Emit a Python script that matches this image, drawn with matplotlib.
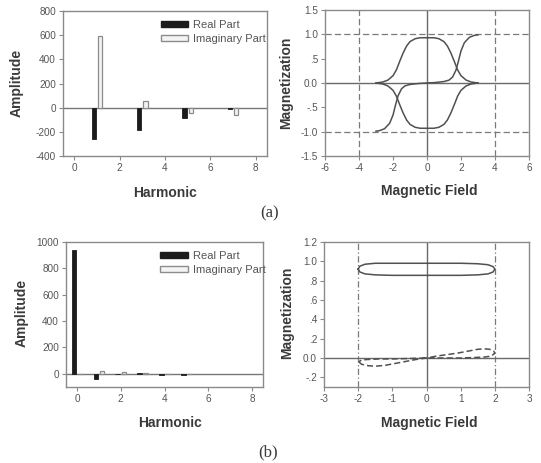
import numpy as np
import matplotlib
matplotlib.use('Agg')
import matplotlib.pyplot as plt
from matplotlib.patches import Patch

plt.rcParams['font.family'] = ['Liberation Sans', 'DejaVu Sans']
plt.rcParams['axes.unicode_minus'] = False

W, H = 541, 463

# --- DATA ---
harmonics_a = [1, 3, 5, 7]
real_a = [-258, -185, -85, -14]
imag_a = [590, 58, -48, -58]

harmonics_b = [0, 1, 2, 3, 4, 5]
real_b = [940, -40, 0, 5, -6, -6]
imag_b = [0, 25, 15, 4, 0, 0]

# (a) hysteresis branches
dome_x = [-3.0, -2.6, -2.3, -2.0, -1.8, -1.6, -1.4, -1.2, -1.0, -0.7, -0.4, 0.0,
          0.4, 0.7, 1.0, 1.2, 1.4, 1.6, 1.8, 2.0, 2.3, 2.6, 3.0]
dome_up_y = [0.0, 0.02, 0.06, 0.15, 0.27, 0.45, 0.62, 0.76, 0.85, 0.91, 0.93, 0.93,
             0.93, 0.91, 0.85, 0.76, 0.62, 0.45, 0.27, 0.15, 0.06, 0.02, 0.0]
dome_dn_y = [0.0, -0.02, -0.06, -0.15, -0.27, -0.45, -0.62, -0.76, -0.85, -0.91, -0.93, -0.93,
             -0.93, -0.91, -0.85, -0.76, -0.62, -0.45, -0.27, -0.15, -0.06, -0.02, 0.0]
s_right_x = [0.0, 0.5, 1.0, 1.3, 1.5, 1.7, 1.85, 2.0, 2.2, 2.5, 2.8, 3.0]
s_right_y = [0.0, 0.01, 0.03, 0.06, 0.12, 0.26, 0.45, 0.66, 0.83, 0.94, 0.98, 0.99]
s_left_x = [-3.0, -2.8, -2.5, -2.2, -2.0, -1.85, -1.7, -1.5, -1.3, -1.0, -0.5, 0.0]
s_left_y = [-0.99, -0.98, -0.94, -0.83, -0.66, -0.45, -0.26, -0.12, -0.06, -0.03, -0.01, 0.0]

# (b) loops
top_loop_x = [-2.0, -1.95, -1.8, -1.5, -1.0, 0.0, 1.0, 1.5, 1.8, 1.95, 2.0,
              1.95, 1.8, 1.5, 1.0, 0.0, -1.0, -1.5, -1.8, -1.95, -2.0]
top_loop_y = [0.92, 0.95, 0.97, 0.98, 0.98, 0.98, 0.98, 0.975, 0.965, 0.945, 0.92,
              0.89, 0.87, 0.86, 0.855, 0.855, 0.855, 0.86, 0.87, 0.89, 0.92]
low_loop_x = [-1.98, -1.9, -1.7, -1.5, -1.2, -0.9, -0.6, -0.3, 0.0, 0.3, 0.6, 0.9, 1.2,
              1.5, 1.7, 1.85, 1.97, 2.0, 1.9, 1.7, 1.4, 1.0, 0.5, 0.0, -0.5, -1.0,
              -1.4, -1.7, -1.9, -1.98]
low_loop_y = [-0.04, -0.065, -0.08, -0.085, -0.075, -0.055, -0.035, -0.015, 0.0, 0.02,
              0.035, 0.05, 0.07, 0.09, 0.095, 0.09, 0.07, 0.05, 0.02, 0.01, 0.005, 0.0,
              0.0, 0.0, -0.005, -0.01, -0.01, -0.015, -0.02, -0.04]

TXT = '#555555'
SPINE = '#8a8a8a'
LINE = '#505050'


def make_axes(fig, x0, y0, x1, y1):
    ax = fig.add_axes([x0 / W, 1 - y1 / H, (x1 - x0) / W, (y1 - y0) / H])
    for s in ax.spines.values():
        s.set_color(SPINE)
        s.set_linewidth(1.0)
    ax.tick_params(direction='out', length=3, width=0.8, color=SPINE,
                   labelsize=7.2, labelcolor=TXT, pad=2)
    return ax


def label(fig, x, y, text, rot=0, size=10, weight='bold', family=None):
    kw = {}
    if family:
        kw['family'] = family
    fig.text(x / W, 1 - y / H, text, ha='center', va='center', rotation=rot,
             fontsize=size, fontweight=weight, color='#3a3a3a', **kw)


def bar_panel(ax, h, re, im, ylim, yticks):
    h = np.array(h)
    ax.axhline(0, color='#777777', lw=1.0, zorder=1)
    ax.bar(h - 0.14, re, width=0.2, color='#1c1c1c', edgecolor='#1c1c1c', lw=0.6, zorder=2)
    ax.bar(h + 0.14, im, width=0.2, color='#f4f4f4', edgecolor='#8c8c8c', lw=0.9, zorder=2)
    ax.set_xlim(-0.5, 8.5)
    ax.set_ylim(*ylim)
    ax.set_xticks([0, 2, 4, 6, 8])
    ax.set_yticks(yticks)
    handles = [Patch(facecolor='#1c1c1c', edgecolor='#1c1c1c', label='Real Part'),
               Patch(facecolor='#f4f4f4', edgecolor='#8c8c8c', label='Imaginary Part')]
    leg = ax.legend(handles=handles, loc='upper left', bbox_to_anchor=(0.44, 0.99),
                    frameon=False, fontsize=8, handlelength=2.5, handleheight=0.4,
                    handletextpad=0.45, labelspacing=0.35, borderpad=0.2)
    for t in leg.get_texts():
        t.set_color(TXT)


fig = plt.figure(figsize=(W / 100, H / 100), dpi=100)
fig.patch.set_facecolor('white')

# (a) spectrum
ax1 = make_axes(fig, 63, 11, 267, 156)
bar_panel(ax1, harmonics_a, real_a, imag_a, (-400, 800), np.arange(-400, 801, 200))

# (a) hysteresis
ax2 = make_axes(fig, 325, 10, 529, 156)
for v in (-4, 4):
    ax2.axvline(v, color='#7a7a7a', lw=0.9, ls=(0, (5, 2.5)), zorder=1)
for v in (-1, 1):
    ax2.axhline(v, color='#7a7a7a', lw=0.9, ls=(0, (5, 2.5)), zorder=1)
ax2.axhline(0, color='#6a6a6a', lw=1.0, zorder=1)
ax2.axvline(0, color='#6a6a6a', lw=1.0, zorder=1)
ax2.plot(dome_x, dome_up_y, color=LINE, lw=1.1, zorder=2)
ax2.plot(dome_x, dome_dn_y, color=LINE, lw=1.1, zorder=2)
ax2.plot(s_right_x, s_right_y, color=LINE, lw=1.1, zorder=2)
ax2.plot(s_left_x, s_left_y, color=LINE, lw=1.1, zorder=2)
ax2.set_xlim(-6, 6)
ax2.set_ylim(-1.5, 1.5)
ax2.set_xticks(np.arange(-6, 7, 2))
ax2.set_yticks([-1.5, -1.0, -0.5, 0.0, 0.5, 1.0, 1.5])
ax2.set_yticklabels(['-1.5', '-1.0', '-.5', '0.0', '.5', '1.0', '1.5'])

# (b) spectrum
ax3 = make_axes(fig, 66, 242, 263, 387)
bar_panel(ax3, harmonics_b, real_b, imag_b, (-100, 1000), np.arange(0, 1001, 200))

# (b) loops
ax4 = make_axes(fig, 324, 242, 529, 387)
for v in (-2, 2):
    ax4.axvline(v, color='#7a7a7a', lw=0.9, ls=(0, (5, 2, 1, 2)), zorder=1)
ax4.axhline(0, color='#6a6a6a', lw=1.0, zorder=1)
ax4.axvline(0, color='#6a6a6a', lw=1.0, zorder=1)
ax4.plot(top_loop_x, top_loop_y, color=LINE, lw=1.1, zorder=2)
ax4.plot(low_loop_x, low_loop_y, color=LINE, lw=1.1, ls=(0, (4, 2)), zorder=2)
ax4.set_xlim(-3, 3)
ax4.set_ylim(-0.3, 1.2)
ax4.set_xticks(np.arange(-3, 4, 1))
ax4.set_yticks([-0.2, 0.0, 0.2, 0.4, 0.6, 0.8, 1.0, 1.2])
ax4.set_yticklabels(['-.2', '0.0', '.2', '.4', '.6', '.8', '1.0', '1.2'])

# axis titles and panel captions
label(fig, 17, 83, 'Amplitude', rot=90)
label(fig, 165, 193, 'Harmonic')
label(fig, 286, 83, 'Magnetization', rot=90)
label(fig, 429, 191, 'Magnetic Field')
label(fig, 22, 313, 'Amplitude', rot=90)
label(fig, 170, 423, 'Harmonic')
label(fig, 287, 313, 'Magnetization', rot=90)
label(fig, 429, 423, 'Magnetic Field')
label(fig, 270, 213, '(a)', size=12, weight='normal', family='Liberation Serif')
label(fig, 268, 452, '(b)', size=12, weight='normal', family='Liberation Serif')

fig.savefig('out.png', dpi=100)
